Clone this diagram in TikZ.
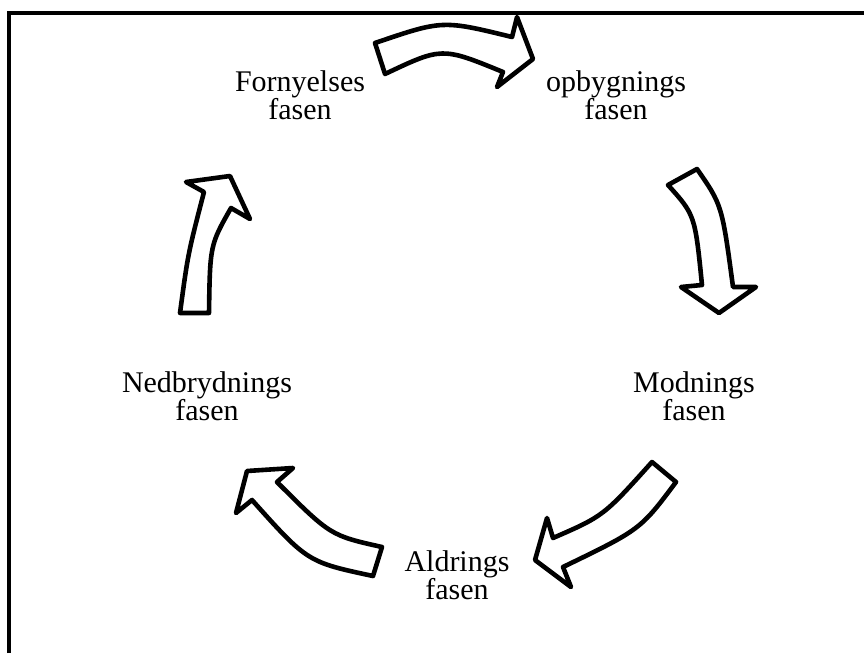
\documentclass[tikz,border=0pt]{standalone}
\usepackage{fontspec}
\setmainfont{Liberation Serif}
\begin{document}
\begin{tikzpicture}[x=1pt,y=-1pt,
  blockarrow/.style={draw=black,line width=4.6pt,line join=round,fill=white},
  phase/.style={align=center,inner sep=0pt,font=\fontsize{30}{28}\selectfont},
  frameline/.style={line width=3.5pt}]
\useasboundingbox (0,0) rectangle (864,653);
\coordinate (fl) at (9,653);
\coordinate (fc) at (9,13);
\coordinate (fr) at (864,13);
\draw[frameline] (fl) -- (fc) -- (fr);

\node[phase] (forny) at (300,95.5) {Fornyelses\\fasen};
\node[phase] (opbyg) at (616,95.5) {opbygnings\\fasen};
\node[phase] (modn)  at (694,396.5) {Modnings\\fasen};
\node[phase] (aldr)  at (457,575.5) {Aldrings\\fasen};
\node[phase] (nedb)  at (207,396.5) {Nedbrydnings\\fasen};

% top arrow
\draw[blockarrow] (375,43) .. controls (442.5,20) .. (512,37) -- (517,17) -- (533,59) -- (497,87) -- (503,72) .. controls (442,47) .. (385,74) -- cycle;
% right arrow
\draw[blockarrow] (668,185) -- (697,169) .. controls (722,205) .. (733,287) -- (756,287) -- (719,313) -- (681,287) -- (702,285) .. controls (695,215) .. (668,185) -- cycle;
% lower right arrow
\draw[blockarrow] (652,462) -- (676,482) .. controls (640.5,529.5) .. (563,567) -- (571,587) -- (535,560) -- (547,518) -- (553,538) .. controls (603.5,516) .. (652,462) -- cycle;
% lower left arrow
\draw[blockarrow] (373,576) -- (382,547) .. controls (330.5,535.5) .. (277,482) -- (293,468) -- (247,471) -- (236,513) -- (252,500) .. controls (307.5,562) .. (373,576) -- cycle;
% left arrow
\draw[blockarrow] (180,313) -- (209,313) .. controls (210,245) .. (231,208) -- (250,219) -- (230,176) -- (186,182) -- (204,192) .. controls (188,253.5) .. (180,313) -- cycle;
\end{tikzpicture}
\end{document}
